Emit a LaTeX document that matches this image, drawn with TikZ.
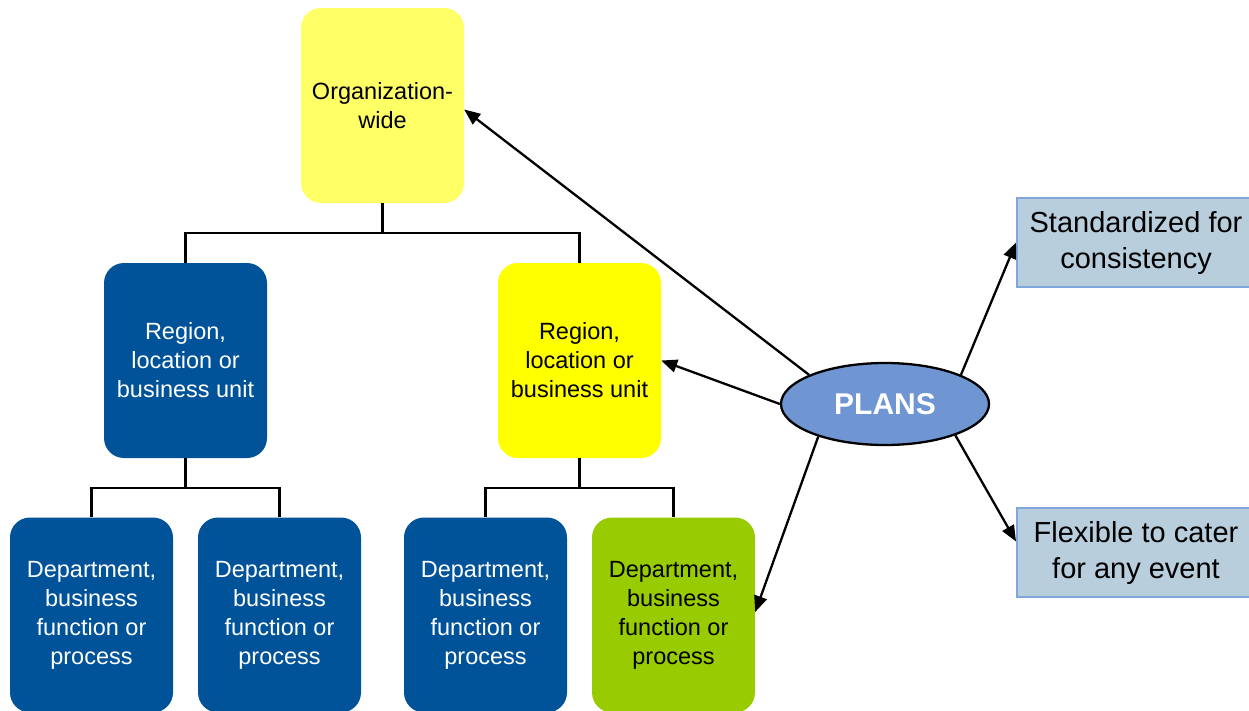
\documentclass[tikz,border=0pt]{standalone}
\usepackage{fontspec}
\setmainfont{Liberation Sans}
\usetikzlibrary{arrows.meta,shapes.geometric}
\definecolor{paleyellow}{HTML}{FFFF66}
\definecolor{brightyellow}{HTML}{FFFF00}
\definecolor{deepblue}{HTML}{005299}
\definecolor{leafgreen}{HTML}{99CC00}
\definecolor{notefill}{HTML}{B9CEDC}
\definecolor{noteedge}{HTML}{7FA7DB}
\definecolor{planfill}{HTML}{6F96D2}
\tikzset{
  unit/.style={rounded corners=20pt, minimum width=163pt, align=center,
    font=\fontsize{23.5}{29}\selectfont, inner sep=0pt},
  tall/.style={unit, minimum height=195pt},
  note/.style={draw=noteedge, line width=2pt, fill=notefill, minimum width=238pt,
    minimum height=89pt, align=center, font=\fontsize{29}{36}\selectfont, inner sep=0pt},
  link/.style={line width=2.3pt, black},
  arr/.style={line width=2.3pt, black, -{Triangle[length=16pt,width=13pt]}}
}
\begin{document}
\begin{tikzpicture}[x=1pt,y=-1pt]
  \useasboundingbox (0,0) rectangle (1249,710);

  % organisation levels
  \node[tall, fill=paleyellow] (org) at (382.5,105.5) {Organization-\\wide};
  \node[tall, fill=deepblue, text=white] (regL) at (185.5,360.5) {Region,\\location or\\business unit};
  \node[tall, fill=brightyellow] (regR) at (579.5,360.5) {Region,\\location or\\business unit};
  \node[tall, fill=deepblue, text=white] (depA) at (91.5,615) {Department,\\business\\function or\\process};
  \node[tall, fill=deepblue, text=white] (depB) at (279.5,615) {Department,\\business\\function or\\process};
  \node[tall, fill=deepblue, text=white] (depC) at (485.5,615) {Department,\\business\\function or\\process};
  \node[tall, fill=leafgreen] (depD) at (673.5,615) {Department,\\business\\function or\\process};

  % tree connectors
  \draw[link] (org.south) -- ++(0,30) coordinate (t1) -| (regL.north);
  \draw[link] (t1) -| (regR.north);
  \draw[link] (regL.south) -- ++(0,30) coordinate (t2) -| (depA.north);
  \draw[link] (t2) -| (depB.north);
  \draw[link] (regR.south) -- ++(0,30) coordinate (t3) -| (depC.north);
  \draw[link] (t3) -| (depD.north);

  % plans and their qualities
  \node[ellipse, draw=black, line width=2.3pt, fill=planfill, minimum width=208pt,
        minimum height=82pt, inner sep=0pt, text=white,
        font=\fontsize{30}{36}\selectfont\bfseries] (plans) at (885,404) {PLANS};
  \node[note] (std) at (1136,242.5) {Standardized for\\consistency};
  \node[note] (flex) at (1136,552.5) {Flexible to cater\\for any event};

  \draw[arr] (plans.159) -- ([yshift=-4pt]org.east);
  \draw[arr] (plans.180) -- (regR.east);
  \draw[arr] (plans.206) -- ([yshift=3pt]depD.east);
  \draw[arr] (plans.21) -- (std.west);
  \draw[arr] (plans.336) -- ([yshift=11pt]flex.west);
\end{tikzpicture}
\end{document}
